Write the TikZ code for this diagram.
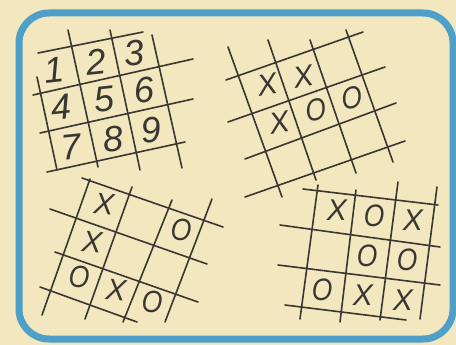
\documentclass[tikz,border=0pt]{standalone}
\usepackage{fontspec}
\setmainfont{Liberation Sans}
\definecolor{paper}{RGB}{242,231,190}
\definecolor{ink}{RGB}{58,55,50}
\definecolor{frameblue}{RGB}{78,160,200}
\begin{document}
\begin{tikzpicture}[x=1pt,y=-1pt,
  gridline/.style={draw=ink,line width=1.6pt,line cap=round},
  digit/.style={text=ink,inner sep=0pt,font=\fontsize{36}{36}\selectfont\itshape},
  xo/.style={text=ink,inner sep=0pt,font=\fontsize{30}{30}\selectfont\itshape},
  oo/.style={text=ink,inner sep=0pt,xscale=0.85,font=\fontsize{31}{31}\selectfont\itshape},
  frame/.style={draw=frameblue,line width=7pt,rounded corners=30pt}]
\fill[paper] (0,0) rectangle (456,345);
\useasboundingbox (0,0) rectangle (456,345);
\draw[frame] (19,13) rectangle (453,339);

% grid 1 (numbers)
\draw[gridline] (38,53) -- (143,32);
\draw[gridline] (33,95) -- (193,59);
\draw[gridline] (40,133) -- (193,99);
\draw[gridline] (47,172) -- (185,142);
\draw[gridline] (37,77) -- (57,170);
\draw[gridline] (68,30) -- (98,167);
\draw[gridline] (110,30) -- (140,170);
\draw[gridline] (152,35) -- (182,168);
\node[digit,rotate=6] (n1) at (54,70) {1};
\node[digit,rotate=6] (n2) at (96,62) {2};
\node[digit,rotate=6] (n3) at (134,53) {3};
\node[digit,rotate=6] (n4) at (61,107) {4};
\node[digit,rotate=6] (n5) at (104,99) {5};
\node[digit,rotate=6] (n6) at (144,90) {6};
\node[digit,rotate=6] (n7) at (71,147) {7};
\node[digit,rotate=6] (n8) at (113,139) {8};
\node[digit,rotate=6] (n9) at (151,130) {9};

% grid 2
\draw[gridline] (226,80) -- (363,32);
\draw[gridline] (228,122) -- (385,67);
\draw[gridline] (245,159) -- (396,103);
\draw[gridline] (245,197) -- (405,141);
\draw[gridline] (228,47) -- (282,197);
\draw[gridline] (268,40) -- (316,180);
\draw[gridline] (310,40) -- (356,173);
\draw[gridline] (346,30) -- (393,162);
\node[xo,rotate=10] (b1) at (268,85) {X};
\node[xo,rotate=10] (b2) at (304,77) {X};
\node[xo,rotate=10] (b3) at (280,123) {X};
\node[oo,rotate=10] (b4) at (316,110) {O};
\node[oo,rotate=10] (b5) at (352,98) {O};

% grid 3
\draw[gridline] (82,178) -- (223,227);
\draw[gridline] (50,209) -- (207,264);
\draw[gridline] (55,252) -- (198,302);
\draw[gridline] (40,287) -- (137,322);
\draw[gridline] (90,179) -- (42,315);
\draw[gridline] (132,187) -- (85,319);
\draw[gridline] (172,200) -- (123,322);
\draw[gridline] (212,199) -- (165,322);
\node[xo,rotate=-5] (c1) at (104,204) {X};
\node[oo,rotate=-5] (c2) at (181,230) {O};
\node[xo,rotate=-5] (c3) at (92,242) {X};
\node[oo,rotate=-5] (c4) at (79,277) {O};
\node[xo,rotate=-5] (c5) at (116,290) {X};
\node[oo,rotate=-5] (c6) at (152,302) {O};

% grid 4
\draw[gridline] (303,189) -- (438,205);
\draw[gridline] (280,225) -- (440,247);
\draw[gridline] (278,265) -- (440,285);
\draw[gridline] (285,305) -- (406,320);
\draw[gridline] (318,185) -- (300,319);
\draw[gridline] (356,190) -- (340,322);
\draw[gridline] (398,182) -- (380,320);
\draw[gridline] (437,187) -- (420,319);
\node[xo] (d1) at (337,210) {X};
\node[oo] (d2) at (374,216) {O};
\node[xo] (d3) at (413,220) {X};
\node[oo] (d4) at (367,256) {O};
\node[oo] (d5) at (407,260) {O};
\node[oo] (d6) at (322,290) {O};
\node[xo] (d7) at (363,295) {X};
\node[xo] (d8) at (403,300) {X};
\end{tikzpicture}
\end{document}
